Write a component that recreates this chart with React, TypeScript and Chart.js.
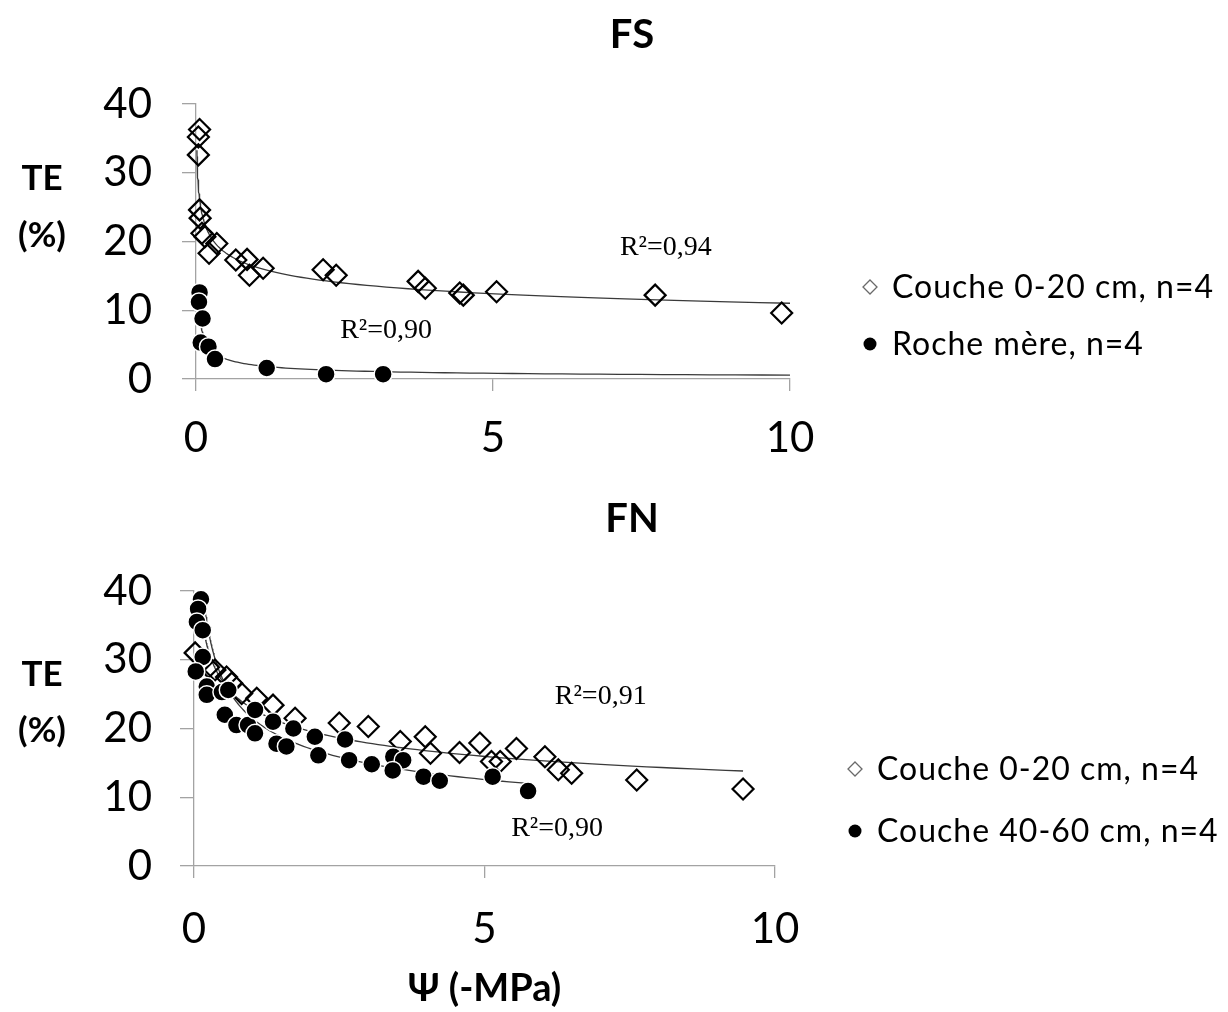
import React, { useEffect, useRef } from "react";
import { Chart, registerables } from "chart.js";
Chart.register(...registerables);

// ---------- DATA ----------
// FS panel
const fsTopsoilLabel = "Couche 0-20 cm, n=4";
const fsTopsoilX = [0.06, 0.04, 0.04, 0.06, 0.07, 0.1, 0.15, 0.35, 0.22, 0.67, 0.86, 0.9, 1.13, 2.14, 2.36, 3.74, 3.86, 4.44, 4.5, 5.06, 7.73, 9.86];
const fsTopsoilY = [36.3, 35.2, 32.6, 24.6, 23.4, 21.2, 20.7, 19.7, 18.3, 17.3, 17.4, 15.1, 16.1, 15.9, 15.1, 14.2, 13.2, 12.5, 12.2, 12.7, 12.2, 9.6];
const fsRockLabel = "Roche mère, n=4";
const fsRockX = [0.06, 0.05, 0.11, 0.08, 0.21, 0.32, 1.19, 2.19, 3.15];
const fsRockY = [12.6, 11.2, 8.8, 5.3, 4.7, 2.9, 1.6, 0.7, 0.7];
const fsTopsoilR2 = "R²=0,94";
const fsRockR2 = "R²=0,90";
// power trendlines y = a·x^b: [a, b, xStart, xEnd]
const fsTopsoilFit = [16.3, -0.17, 0.015, 10];
const fsRockFit = [2.0, -0.55, 0.03, 10];

// FN panel
const fnTopsoilLabel = "Couche 0-20 cm, n=4";
const fnTopsoilX = [0.02, 0.25, 0.36, 0.56, 0.65, 0.82, 1.08, 1.36, 1.74, 2.5, 3.0, 3.55, 3.98, 4.07, 4.57, 4.92, 5.12, 5.27, 5.55, 6.04, 6.27, 6.5, 7.62, 9.45];
const fnTopsoilY = [31.0, 28.9, 28.5, 27.5, 26.6, 25.1, 24.4, 23.4, 21.5, 20.8, 20.3, 18.1, 18.8, 16.4, 16.5, 17.9, 15.2, 15.2, 17.1, 15.9, 14.0, 13.5, 12.5, 11.2];
const fnSubsoilLabel = "Couche 40-60 cm, n=4";
const fnSubsoilX = [0.12, 0.07, 0.05, 0.15, 0.15, 0.03, 0.22, 0.22, 0.48, 0.59, 0.53, 0.73, 0.93, 1.05, 1.05, 1.36, 1.42, 1.59, 1.71, 2.08, 2.14, 2.6, 2.67, 3.06, 3.43, 3.6, 3.42, 3.95, 4.23, 5.14, 5.75];
const fnSubsoilY = [38.8, 37.4, 35.5, 34.3, 30.4, 28.3, 26.1, 24.9, 25.3, 25.6, 22.0, 20.5, 20.5, 22.7, 19.3, 21.0, 17.8, 17.4, 20.0, 18.8, 16.1, 18.4, 15.4, 14.8, 15.9, 15.4, 13.9, 13.0, 12.4, 13.0, 10.9];
const fnTopsoilR2 = "R²=0,91";
const fnSubsoilR2 = "R²=0,90";
const fnTopsoilFit = [22.9, -0.225, 0.2, 9.45];
const fnSubsoilFit = [21.5, -0.333, 0.17, 5.75];

// axis
const xTickStep = 5;
const yTickStep = 10;
const xMax = 10;
const yMax = 40;
const yTitle = ["TE", "(%)"];
const xTitle = "Ψ (-MPa)";
const fsTitle = "FS";
const fnTitle = "FN";

// ---------- helpers ----------
function toPoints(xs: number[], ys: number[]) {
  return xs.map((x, i) => ({ x, y: ys[i] }));
}

function powerCurve(fit: number[]) {
  const [a, b, x0, x1] = fit;
  const pts: { x: number; y: number }[] = [];
  const N = 120;
  for (let i = 0; i <= N; i++) {
    const x = x0 * Math.pow(x1 / x0, i / N);
    pts.push({ x, y: a * Math.pow(x, b) });
  }
  return pts;
}

const AXIS = "#a3a3a3";
const TICK_FONT = { family: "Lato", size: 42 };

function diamondDs(label: string, xs: number[], ys: number[]) {
  return {
    label,
    data: toPoints(xs, ys),
    pointStyle: "rectRot",
    pointRadius: 10.5,
    pointBorderWidth: 2.2,
    pointBorderColor: "#000",
    pointBackgroundColor: "rgba(255,255,255,0)",
    showLine: false,
    order: 1,
    clip: false,
    legendMarker: "diamond",
  };
}
function circleDs(label: string, xs: number[], ys: number[]) {
  return {
    label,
    data: toPoints(xs, ys),
    pointStyle: "circle",
    pointRadius: 9,
    pointBorderWidth: 1.5,
    pointBorderColor: "#fff",
    pointBackgroundColor: "#000",
    showLine: false,
    order: 0,
    clip: false,
    legendMarker: "circle",
  };
}
function trendDs(pts: { x: number; y: number }[]) {
  return {
    label: "trend",
    data: pts,
    showLine: true,
    pointRadius: 0,
    borderColor: "#3a3a3a",
    borderWidth: 1.3,
    tension: 0,
    order: 2,
    clip: false,
  };
}

const decorPlugin = {
  id: "decor",
  afterDraw(chart: any, _args: any, opts: any) {
    const ctx = chart.ctx;
    ctx.save();
    ctx.fillStyle = "#000";
    ctx.textBaseline = "middle";
    for (const t of opts.texts || []) {
      ctx.font = t.font;
      ctx.textAlign = t.align || "center";
      ctx.fillText(t.text, t.x, t.y);
    }
    const xs = chart.scales.x;
    const ys = chart.scales.y;
    for (const n of opts.notes || []) {
      ctx.font = n.font;
      ctx.textAlign = "center";
      ctx.fillText(n.text, xs.getPixelForValue(n.x), ys.getPixelForValue(n.y));
    }
    for (const l of opts.legend || []) {
      const ds = chart.data.datasets[l.datasetIndex];
      if (ds.legendMarker === "diamond") {
        const r = 7;
        ctx.beginPath();
        ctx.moveTo(l.x, l.y - r);
        ctx.lineTo(l.x + r, l.y);
        ctx.lineTo(l.x, l.y + r);
        ctx.lineTo(l.x - r, l.y);
        ctx.closePath();
        ctx.strokeStyle = "#6a6a6a";
        ctx.lineWidth = 1.3;
        ctx.stroke();
      } else {
        ctx.beginPath();
        ctx.arc(l.x, l.y, 6.5, 0, Math.PI * 2);
        ctx.fillStyle = "#000";
        ctx.fill();
      }
      ctx.fillStyle = "#000";
      ctx.font = l.font;
      ctx.textAlign = "left";
      if ("letterSpacing" in ctx) (ctx as any).letterSpacing = "1px";
      ctx.fillText(ds.label, l.x + 22, l.y + 1);
      if ("letterSpacing" in ctx) (ctx as any).letterSpacing = "0px";
    }
    ctx.restore();
  },
};

function makeScales(cfg: { yW: number; xH: number; xPad: number; yPad: number; title?: string }) {
  return {
    x: {
      type: "linear",
      min: 0,
      max: xMax,
      ticks: { stepSize: xTickStep, color: "#000", font: TICK_FONT, padding: cfg.xPad, maxRotation: 0 },
      grid: { display: true, drawOnChartArea: false, drawTicks: true, tickLength: 12, color: AXIS, lineWidth: 1.3 },
      border: { display: true, color: AXIS, width: 1.3 },
      title: cfg.title
        ? { display: true, text: cfg.title, color: "#000", font: { family: "Lato", size: 38, weight: "bold" }, padding: { top: 0, bottom: 0 } }
        : { display: false },
      afterFit: (s: any) => { s.height = cfg.xH; },
    },
    y: {
      type: "linear",
      min: 0,
      max: yMax,
      ticks: { stepSize: yTickStep, color: "#000", font: TICK_FONT, padding: cfg.yPad },
      grid: { display: true, drawOnChartArea: false, drawTicks: true, tickLength: 14, color: AXIS, lineWidth: 1.3 },
      border: { display: true, color: AXIS, width: 1.3 },
      afterFit: (s: any) => { s.width = cfg.yW; },
    },
  };
}

const TITLE_FONT = "bold 40px Lato";
const YT_FONT = "bold 35px Lato";
const NOTE_FONT = "28px 'Liberation Serif'";
const LEG_FONT = "32px Lato";

function useChart(ref: React.RefObject<HTMLCanvasElement>, cfgFn: () => any) {
  useEffect(() => {
    if (!ref.current) return;
    const chart = new Chart(ref.current, cfgFn());
    return () => chart.destroy();
  }, []);
}

export default function App() {
  const topRef = useRef<HTMLCanvasElement>(null);
  const botRef = useRef<HTMLCanvasElement>(null);

  useChart(topRef, () => ({
    type: "scatter",
    data: {
      datasets: [
        diamondDs(fsTopsoilLabel, fsTopsoilX, fsTopsoilY),
        circleDs(fsRockLabel, fsRockX, fsRockY),
        trendDs(powerCurve(fsTopsoilFit)),
        trendDs(powerCurve(fsRockFit)),
      ],
    },
    options: {
      responsive: false,
      animation: false,
      devicePixelRatio: 1,
      layout: { padding: { left: 0, right: 1228 - 790, top: 104, bottom: 0 } },
      scales: makeScales({ yW: 196, xH: 495 - 379, xPad: 22, yPad: 30 }),
      plugins: {
        legend: { display: false },
        tooltip: { enabled: false },
        decor: {
          texts: [
            { text: fsTitle, x: 632, y: 35, font: TITLE_FONT },
            { text: yTitle[0], x: 42, y: 179, font: YT_FONT },
            { text: yTitle[1], x: 42, y: 236, font: YT_FONT },
          ],
          notes: [
            { text: fsTopsoilR2, x: 7.91, y: 19.05, font: NOTE_FONT },
            { text: fsRockR2, x: 3.2, y: 7.1, font: NOTE_FONT },
          ],
          legend: [
            { datasetIndex: 0, x: 870, y: 287, font: LEG_FONT },
            { datasetIndex: 1, x: 870, y: 344, font: LEG_FONT },
          ],
        },
      },
    },
    plugins: [decorPlugin],
  }));

  useChart(botRef, () => ({
    type: "scatter",
    data: {
      datasets: [
        circleDs(fnSubsoilLabel, fnSubsoilX, fnSubsoilY),
        diamondDs(fnTopsoilLabel, fnTopsoilX, fnTopsoilY),
        trendDs(powerCurve(fnTopsoilFit)),
        trendDs(powerCurve(fnSubsoilFit)),
      ],
    },
    options: {
      responsive: false,
      animation: false,
      devicePixelRatio: 1,
      layout: { padding: { left: 0, right: 1228 - 775, top: 591 - 495, bottom: 0 } },
      scales: makeScales({ yW: 194, xH: 517 - (866 - 495), xPad: 26, yPad: 28, title: xTitle }),
      plugins: {
        legend: { display: false },
        tooltip: { enabled: false },
        decor: {
          texts: [
            { text: fnTitle, x: 632, y: 519 - 495, font: TITLE_FONT },
            { text: yTitle[0], x: 42, y: 675 - 495, font: YT_FONT },
            { text: yTitle[1], x: 42, y: 731 - 495, font: YT_FONT },
          ],
          notes: [
            { text: fnTopsoilR2, x: 7.0, y: 24.6, font: NOTE_FONT },
            { text: fnSubsoilR2, x: 6.25, y: 5.5, font: NOTE_FONT },
          ],
          legend: [
            { datasetIndex: 1, x: 855, y: 769, font: LEG_FONT },
            { datasetIndex: 0, x: 855, y: 831, font: LEG_FONT },
          ].map((l) => ({ ...l, y: l.y - 495 })),
        },
      },
    },
    plugins: [decorPlugin],
  }));

  return (
    <div style={{ position: "absolute", left: 0, top: 0, width: 1228, height: 1012, background: "#fff" }}>
      <canvas ref={topRef} width={1228} height={495} style={{ position: "absolute", left: 0, top: 0 }} />
      <canvas ref={botRef} width={1228} height={517} style={{ position: "absolute", left: 0, top: 495 }} />
    </div>
  );
}
